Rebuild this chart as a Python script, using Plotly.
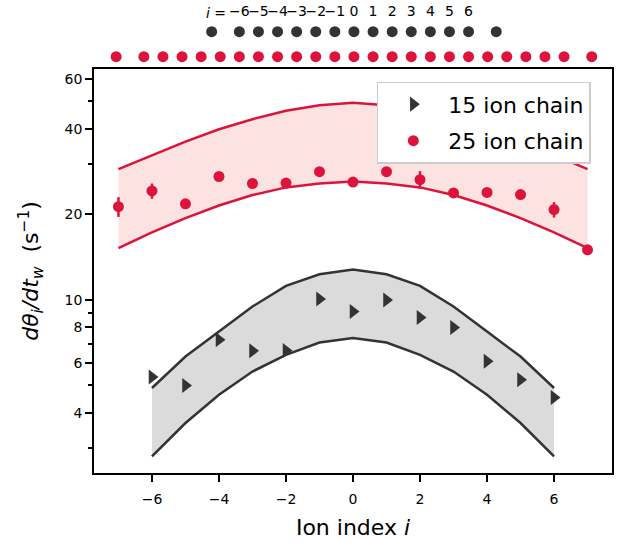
import plotly.graph_objects as go

# ---------------- data ----------------
ion_index_15 = [-6, -5, -4, -3, -2, -1, 0, 1, 2, 3, 4, 5, 6]
rate_15 = [5.35, 4.99, 7.23, 6.61, 6.63, 10.06, 9.10, 9.98, 8.66, 7.99, 6.07, 5.23, 4.53]
err_15 = [0.15] * 13
band15_lower = [2.81, 3.68, 4.63, 5.59, 6.40, 7.07, 7.33, 7.07, 6.40, 5.59, 4.63, 3.68, 2.81]
band15_upper = [4.89, 6.31, 7.73, 9.47, 11.2, 12.3, 12.8, 12.3, 11.2, 9.47, 7.73, 6.31, 4.89]

ion_index_25 = [-7, -6, -5, -4, -3, -2, -1, 0, 1, 2, 3, 4, 5, 6, 7]
rate_25 = [21.3, 24.2, 21.8, 27.2, 25.7, 25.8, 28.3, 26.0, 28.3, 26.5, 23.8, 23.9, 23.5, 20.8, 15.0]
err_25 = [1.7, 1.5, 0.5, 0.5, 0.5, 0.5, 0.5, 0.5, 0.5, 1.9, 0.6, 0.5, 0.5, 1.3, 0.4]
band25_lower = [15.2, 17.3, 19.4, 21.5, 23.4, 24.9, 25.7, 26.1, 25.7, 24.9, 23.4, 21.5, 19.4, 17.3, 15.2]
band25_upper = [28.9, 32.4, 36.1, 39.9, 43.3, 46.4, 48.5, 49.5, 48.5, 46.4, 43.3, 39.9, 36.1, 32.4, 28.9]

# ion positions in the chains (units of the central ion spacing)
chain15_pos = [-7.45, -6, -5, -4, -3, -2, -1, 0, 1, 2, 3, 4, 5, 6, 7.45]
chain25_pos = [-12.45] + list(range(-11, 12)) + [12.45]
chain_labels = [-6, -5, -4, -3, -2, -1, 0, 1, 2, 3, 4, 5, 6]

x_ticks = [-6, -4, -2, 0, 2, 4, 6]
y_major = [4, 6, 8, 10, 20, 40, 60]
y_minor = [3, 5, 7, 9, 30, 50]

RED = "#DC143C"
DARK = "#333333"
FONT = "DejaVu Sans"

def lab(v):
    return ("\u2212" + str(-v)) if v < 0 else str(v)

fig = go.Figure()

# bands
fig.add_trace(go.Scatter(x=ion_index_15, y=band15_lower, mode="lines",
                         line=dict(color=DARK, width=2.5), showlegend=False, hoverinfo="skip"))
fig.add_trace(go.Scatter(x=ion_index_15, y=band15_upper, mode="lines", fill="tonexty",
                         fillcolor="#DBDBDB", line=dict(color=DARK, width=2.5),
                         showlegend=False, hoverinfo="skip"))
fig.add_trace(go.Scatter(x=ion_index_25, y=band25_lower, mode="lines",
                         line=dict(color=RED, width=2.5), showlegend=False, hoverinfo="skip"))
fig.add_trace(go.Scatter(x=ion_index_25, y=band25_upper, mode="lines", fill="tonexty",
                         fillcolor="#FDE2E2", line=dict(color=RED, width=2.5),
                         showlegend=False, hoverinfo="skip"))

# data points
fig.add_trace(go.Scatter(x=ion_index_15, y=rate_15, mode="markers", name="15 ion chain",
                         legendgroup="a",
                         marker=dict(symbol="triangle-right", size=13, color=DARK),
                         error_y=dict(type="data", array=err_15, color=DARK, thickness=2.5, width=0)))
fig.add_trace(go.Scatter(x=ion_index_25, y=rate_25, mode="markers", name="25 ion chain",
                         legendgroup="b",
                         marker=dict(symbol="circle", size=11, color=RED),
                         error_y=dict(type="data", array=err_25, color=RED, thickness=2.5, width=0)))

# chain diagrams on top
fig.add_trace(go.Scatter(x=chain15_pos, y=[1] * len(chain15_pos), mode="markers",
                         marker=dict(size=11, color=DARK), xaxis="x2", yaxis="y2",
                         showlegend=False, hoverinfo="skip"))
fig.add_trace(go.Scatter(x=chain25_pos, y=[0] * len(chain25_pos), mode="markers",
                         marker=dict(size=11, color=RED), xaxis="x2", yaxis="y2",
                         showlegend=False, hoverinfo="skip"))
fig.add_trace(go.Scatter(x=chain_labels, y=[1.76] * len(chain_labels), mode="text",
                         text=[lab(v) for v in chain_labels],
                         textfont=dict(family=FONT, size=14, color="black"),
                         xaxis="x2", yaxis="y2", showlegend=False, hoverinfo="skip"))
fig.add_annotation(x=-6.62, y=1.76, xref="x2", yref="y2", text="<i>i</i> =",
                   showarrow=False, xanchor="right", yanchor="middle",
                   font=dict(family=FONT, size=14, color="black"))

fig.update_layout(
    width=619, height=548,
    margin=dict(l=94, r=7, t=0, b=75),
    paper_bgcolor="white", plot_bgcolor="white",
    font=dict(family=FONT, size=14, color="black"),
    xaxis=dict(range=[-7.73, 7.73], tickvals=x_ticks, ticktext=[lab(v) for v in x_ticks],
               ticks="outside", ticklen=7, tickwidth=1.5, tickcolor="black",
               ticklabelstandoff=5,
               showline=True, linecolor="black", linewidth=1.5, mirror=True,
               showgrid=False, zeroline=False, tickfont=dict(size=14),
               title=dict(text="Ion index <i>i</i>", font=dict(size=22), standoff=14),
               anchor="y"),
    yaxis=dict(type="log", range=[0.3898, 1.8134], domain=[0, 0.8541],
               tickvals=y_major, ticktext=[str(v) for v in y_major],
               ticks="outside", ticklen=7, tickwidth=1.5, tickcolor="black",
               minor=dict(tickvals=y_minor, ticks="outside", ticklen=4, tickwidth=1.5,
                          tickcolor="black", showgrid=False),
               showline=True, linecolor="black", linewidth=1.5, mirror=True,
               showgrid=False, zeroline=False, tickfont=dict(size=14),
               title=dict(text="<i>dθ<sub>i</sub>/dt<sub>w</sub></i>  (s<sup>\u22121</sup>)",
                          font=dict(size=22), standoff=20),
               anchor="x"),
    xaxis2=dict(range=[-13.61, 13.51], domain=[0, 1], visible=False, anchor="y2"),
    yaxis2=dict(range=[-0.38, 2.268], domain=[0.86, 1.0], visible=False, anchor="x2"),
    legend=dict(x=0.546, y=0.827, xanchor="left", yanchor="top",
                bgcolor="white", bordercolor="#CCCCCC", borderwidth=1.5,
                font=dict(size=22), itemwidth=60, tracegroupgap=5),
)

fig.write_html("out.html")
